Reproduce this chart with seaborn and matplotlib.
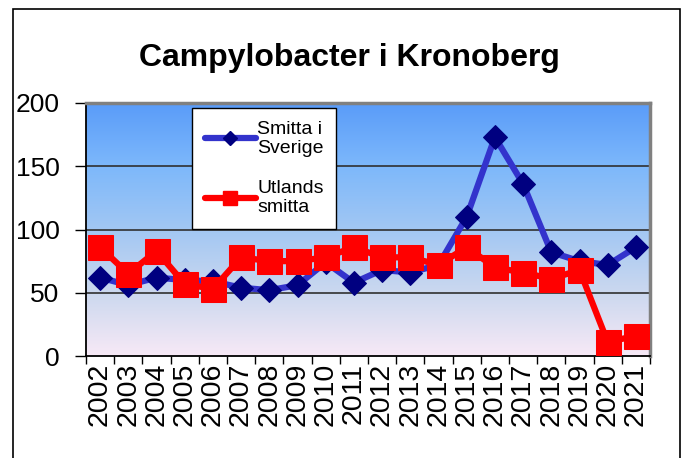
import numpy as np
import pandas as pd
import seaborn as sns
import matplotlib.pyplot as plt
from matplotlib.colors import LinearSegmentedColormap
from matplotlib.lines import Line2D
from matplotlib.patches import Rectangle

# data
years = [str(y) for y in range(2002, 2022)]
smitta_sverige = [62, 56, 62, 60, 59, 54, 52, 56, 74, 58,
                  68, 66, 72, 110, 173, 136, 82, 75, 72, 86]
utlands_smitta = [86, 65, 83, 57, 53, 78, 75, 75, 78, 86,
                  78, 78, 72, 86, 70, 66, 61, 68, 11, 16]

df = pd.DataFrame({"year": years,
                   "Smitta i Sverige": smitta_sverige,
                   "Utlands smitta": utlands_smitta})

sns.set_style("white")
plt.rcParams["font.family"] = ["Liberation Sans", "DejaVu Sans"]
plt.rcParams["text.color"] = "black"
plt.rcParams["xtick.color"] = "black"
plt.rcParams["ytick.color"] = "black"

fig = plt.figure(figsize=(6.82, 4.58), dpi=100)
ax = fig.add_axes([86 / 682, 1 - 356 / 458, 564 / 682, 253 / 458])

# gradient background
cmap = LinearSegmentedColormap.from_list(
    "bg", [(0.0, "#f7e9f6"), (0.25, "#cbd8ef"), (0.5, "#a2c7f3"),
           (0.75, "#7db8fb"), (1.0, "#5a9cf9")])
grad = np.linspace(0, 1, 256).reshape(-1, 1)
ax.imshow(grad, cmap=cmap, origin="lower", aspect="auto",
          extent=[-0.5, 19.5, 0, 200], zorder=0)

for v in [50, 100, 150]:
    ax.axhline(v, color="#303030", lw=1.2, zorder=1)

sns.lineplot(data=df, x="year", y="Smitta i Sverige", ax=ax, sort=False,
             color="#3333cc", lw=4.5, marker="D", markersize=12.7,
             markerfacecolor="#000080", markeredgecolor="#000080", zorder=3)
sns.lineplot(data=df, x="year", y="Utlands smitta", ax=ax, sort=False,
             color="#ff0000", lw=4.5, marker="s", markersize=18,
             markerfacecolor="#ff0000", markeredgecolor="#ff0000", zorder=4)

ax.set_xlim(-0.5, 19.5)
ax.set_ylim(0, 200)
ax.set_yticks([0, 50, 100, 150, 200])
ax.set_xticks(range(20))
ax.set_xticklabels(years, rotation=90, fontsize=20.5)
ax.set_xticks(np.arange(-0.5, 20, 1), minor=True)
ax.tick_params(axis="x", which="major", length=0, pad=5)
ax.tick_params(axis="x", which="minor", length=6, width=1, color="black",
               direction="out", bottom=True)
ax.tick_params(axis="y", length=8, width=1, color="black", direction="out",
               left=True, labelsize=19, pad=11)
ax.set_xlabel("")
ax.set_ylabel("")

for s in ["left", "bottom"]:
    ax.spines[s].set_color("black")
    ax.spines[s].set_linewidth(1.3)
for s in ["top", "right"]:
    ax.spines[s].set_color("#808080")
    ax.spines[s].set_linewidth(2.5)

handles = [
    Line2D([], [], color="#3333cc", lw=4.5, marker="D", markersize=7,
           markerfacecolor="#000080", markeredgecolor="#000080"),
    Line2D([], [], color="#ff0000", lw=4.5, marker="s", markersize=10,
           markerfacecolor="#ff0000", markeredgecolor="#ff0000"),
]
leg = fig.legend(handles, ["Smitta i\nSverige", "Utlands\nsmitta"],
                 loc="upper left", bbox_to_anchor=(192 / 682, 1 - 108 / 458),
                 frameon=True, fancybox=False, fontsize=14,
                 handlelength=2.65, handletextpad=0.05, labelspacing=1.2,
                 borderpad=0.65, borderaxespad=0)
leg.get_frame().set_edgecolor("black")
leg.get_frame().set_linewidth(1.0)
leg.get_frame().set_alpha(1)
for t in leg.get_texts():
    t.set_linespacing(1.17)

fig.text(0.513, 1 - 58 / 458, "Campylobacter i Kronoberg", ha="center",
         va="center", fontsize=23, fontweight="bold")

fig.patches.append(Rectangle((13 / 682, -0.05), 667 / 682, 1.05 - 9 / 458,
                             transform=fig.transFigure, fill=False,
                             edgecolor="black", lw=1.2))

fig.savefig("out.png", dpi=100)
